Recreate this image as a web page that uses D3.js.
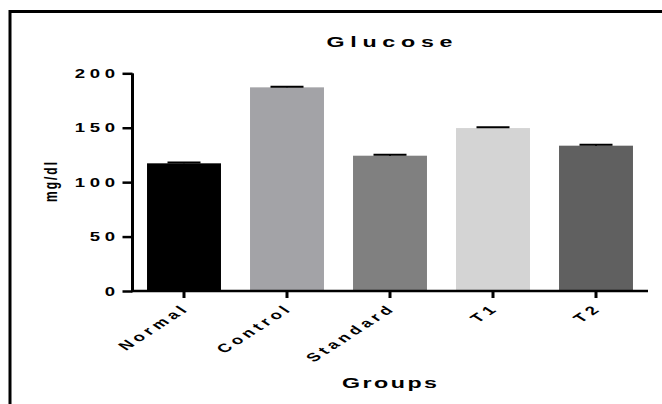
<!DOCTYPE html>
<html>
<head>
<meta charset="utf-8">
<script src="https://cdn.jsdelivr.net/npm/d3@7"></script>
<style>
  html, body { margin: 0; padding: 0; background: #fff; }
  svg { display: block; }
  text { font-family: "Liberation Sans", Arial, sans-serif; font-weight: bold; fill: #000; }
</style>
</head>
<body>
<svg id="chart" width="662" height="404"></svg>
<script>
// Blood glucose by treatment group (mean ± SEM)
const groups = ["Normal", "Control", "Standard", "T1", "T2"];
const glucose = [117.3, 187.1, 124.3, 149.7, 133.5];
const sem = [0.8, 0.6, 0.8, 0.7, 0.8];
const barColors = ["#000000", "#a3a3a7", "#808080", "#d4d4d4", "#606060"];
const yTicks = [0, 50, 100, 150, 200];

const W = 662, H = 404;
const SX = 1.55; // horizontal text stretch
const svg = d3.select("#chart");

// outer frame (only top/left edges fall inside the canvas)
svg.append("rect")
  .attr("x", 10).attr("y", 11.5)
  .attr("width", W + 20).attr("height", H + 20)
  .attr("fill", "none").attr("stroke", "#000").attr("stroke-width", 3);

const x = d3.scaleBand().domain(groups).range([132.5, 647.5]).paddingInner(0.282).paddingOuter(0.141);
const y = d3.scaleLinear().domain([0, 200]).range([291, 73.3]);

// stretched text helper
function label(g, tx, ty, str, size, spacing, anchor, rot) {
  return g.append("text")
    .attr("transform", `translate(${tx},${ty}) scale(${SX},1)` + (rot ? ` rotate(${rot})` : ""))
    .attr("text-anchor", anchor)
    .style("font-size", size + "px")
    .style("letter-spacing", spacing + "px")
    .text(str);
}

// bars
svg.append("g").selectAll("rect").data(groups).join("rect")
  .attr("x", d => x(d))
  .attr("width", x.bandwidth())
  .attr("y", (d, i) => y(glucose[i]))
  .attr("height", (d, i) => y(0) - y(glucose[i]))
  .attr("fill", (d, i) => barColors[i]);

// error bars
const eb = svg.append("g").attr("stroke", "#000").attr("stroke-width", 2);
groups.forEach((g, i) => {
  const cx = x(g) + x.bandwidth() / 2;
  eb.append("line").attr("x1", cx).attr("x2", cx)
    .attr("y1", y(glucose[i])).attr("y2", y(glucose[i] + sem[i]));
  eb.append("line").attr("x1", cx - 16.5).attr("x2", cx + 16.5)
    .attr("y1", y(glucose[i] + sem[i])).attr("y2", y(glucose[i] + sem[i]));
});

// y axis
const yAxis = svg.append("g").attr("transform", "translate(132.5,0)")
  .call(d3.axisLeft(y).tickValues(yTicks).tickSize(10).tickFormat(""));
yAxis.select(".domain").attr("d", `M0,${y(200)}V${y(0)}`).attr("stroke-width", 3);
yAxis.selectAll(".tick line").attr("stroke-width", 2.5);
yTicks.forEach(t => label(svg, 115 + 3 * SX, y(t) + 4.5, String(t), 12, 3, "end"));

// x axis
const xAxis = svg.append("g").attr("transform", "translate(0,291)")
  .call(d3.axisBottom(x).tickSize(7).tickFormat(""));
xAxis.select(".domain").attr("d", "M131,0H648").attr("stroke-width", 2.5);
xAxis.selectAll(".tick line").attr("stroke-width", 3);
groups.forEach(g => {
  const cx = x(g) + x.bandwidth() / 2;
  label(svg, cx + 7, 309, g, 12, 3, "end", -45);
});

// titles
label(svg, 389.5 + 1.8 * SX, 46.7, "Glucose", 15, 3.7, "middle");
label(svg, 389.5 + 0.8 * SX, 388, "Groups", 15, 1.6, "middle");
label(svg, 57, 181, "mg/dl", 12, 2, "middle", -90);
</script>
</body>
</html>
